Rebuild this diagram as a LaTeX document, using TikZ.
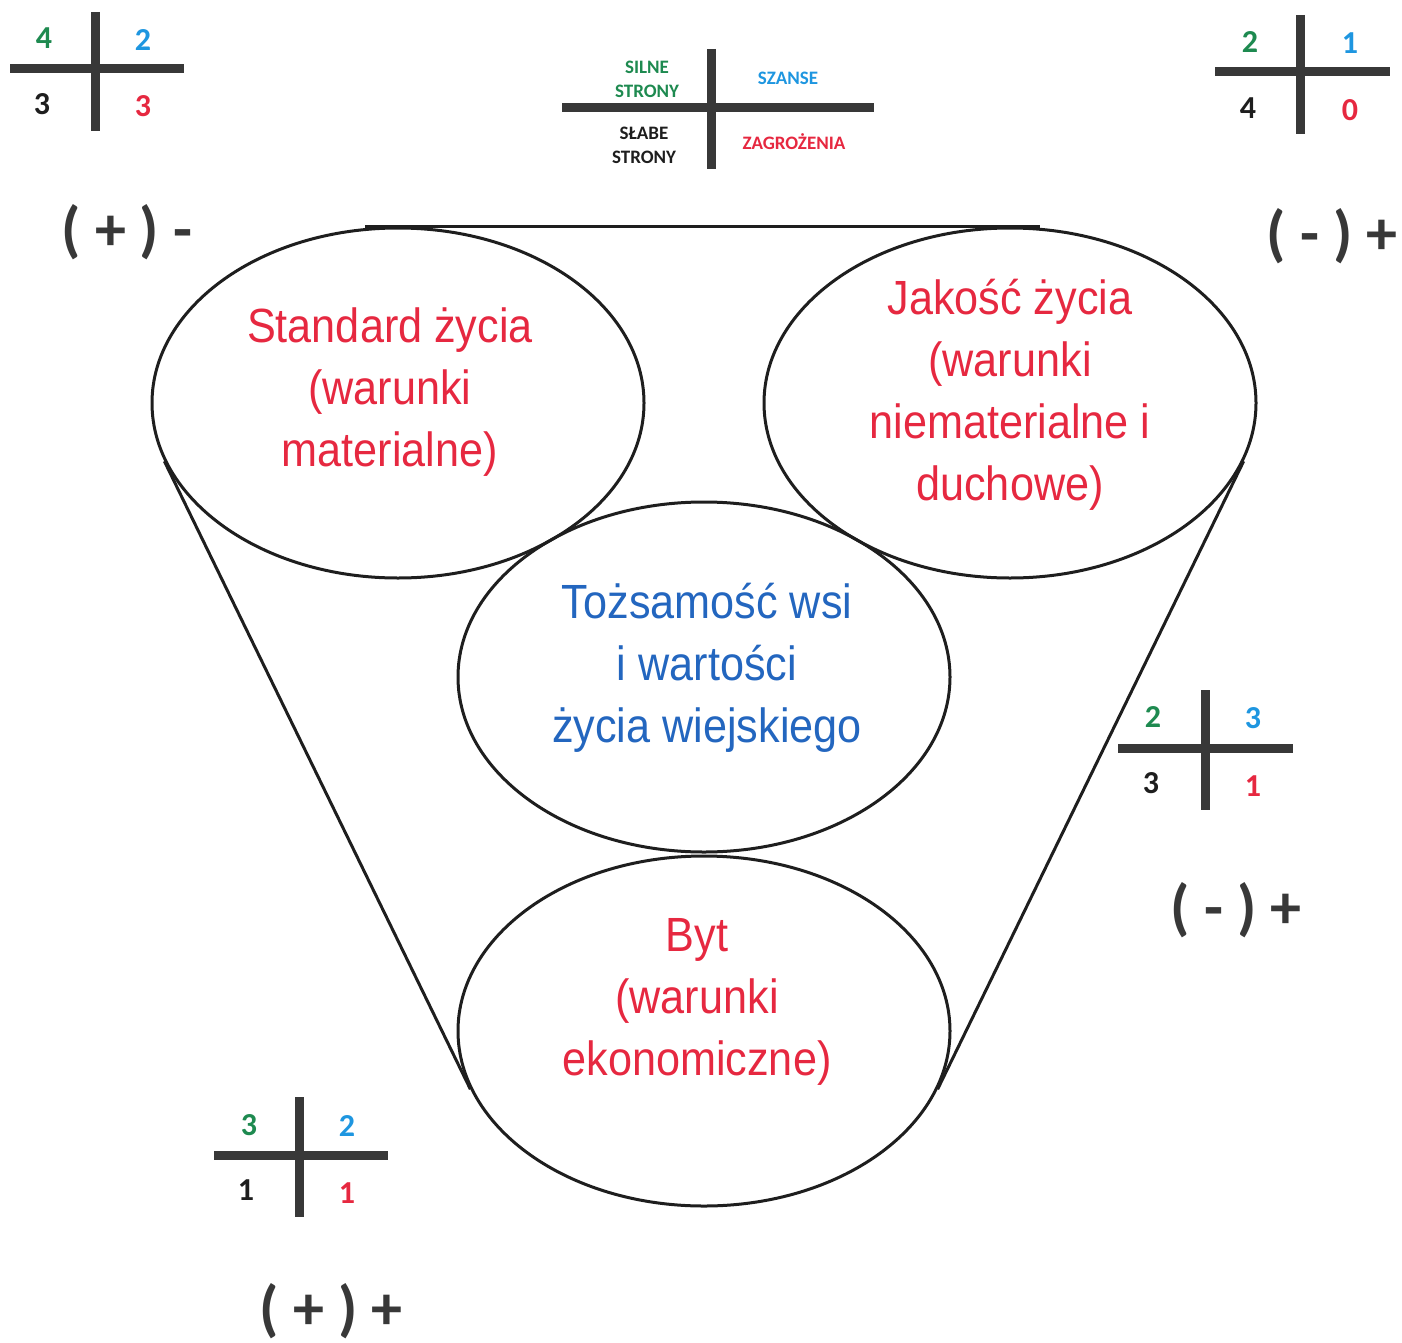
\documentclass[tikz,border=0pt]{standalone}
\usepackage{fontspec}
\setmainfont{Carlito}
\newfontfamily\narrowsans[FakeStretch=0.9]{Liberation Sans}
\usepackage{xcolor}
\usepackage{tikz}
\usetikzlibrary{shapes.geometric}
\definecolor{ink}{HTML}{1E1E1E}
\definecolor{bar}{HTML}{383838}
\definecolor{rose}{HTML}{E62840}
\definecolor{moss}{HTML}{1E8A50}
\definecolor{sky}{HTML}{1E96E0}
\definecolor{navy}{HTML}{2366BF}
\tikzset{
  blob/.style={ellipse,draw=ink,line width=3pt,minimum width=492pt,minimum height=350pt,inner sep=0pt},
  big/.style={font=\narrowsans\fontsize{48}{62}\selectfont,align=center},
  barline/.style={draw=bar,line width=9pt},
  num/.style={font=\bfseries\fontsize{32}{36}\selectfont},
  tag/.style={font=\bfseries\fontsize{19}{24}\selectfont,align=center},
  sign/.style={font=\bfseries\fontsize{62}{66}\selectfont,text=bar},
}
\begin{document}
\begin{tikzpicture}[x=1pt,y=-1pt]
  \useasboundingbox (0,0) rectangle (1402,1343);
  % the four circles
  \node[blob] (L) at (398,403) {};
  \node[blob] (R) at (1010,403) {};
  \node[blob] (M) at (704,677) {};
  \node[blob] (B) at (704,1031) {};
  \node[big,text=rose] (Lt) at (390,392) {Standard życia\\(warunki\\materialne)};
  \node[big,text=rose] (Rt) at (1010,395) {Jakość życia\\(warunki\\niematerialne i\\duchowe)};
  \node[big,text=navy] (Mt) at (707,668) {Tożsamość wsi\\i wartości\\życia wiejskiego};
  \node[big,text=rose] (Bt) at (697,1002) {Byt\\(warunki\\ekonomiczne)};
  \draw[ink,line width=3pt] ([xshift=-33pt]L.north) -- ([xshift=30pt]R.north);
  \draw[ink,line width=3pt] (L.194) -- (B.194);
  \draw[ink,line width=3pt] (R.346) -- (B.346);
  % legend
  \draw[barline] (562,108) -- (874,108);
  \draw[barline] (711,49) -- (711,169);
  \node[tag,text=moss] (s) at (647,79) {SILNE\\STRONY};
  \node[tag,text=sky] (o) at (788,78) {SZANSE};
  \node[tag,text=ink] (w) at (644,145) {SŁABE\\STRONY};
  \node[tag,text=rose] (t) at (794,142) {ZAGROŻENIA};
  % top left
  \draw[barline] (10,69) -- (184,69);
  \draw[barline] (95,12) -- (95,131);
  \node[num,text=moss] (s1) at (44,38) {4};
  \node[num,text=sky] (o1) at (143,40) {2};
  \node[num,text=ink] (w1) at (42,104) {3};
  \node[num,text=rose] (t1) at (143,106) {3};
  \node[sign] (g1) at (127,232) {( + ) -};
  % top right
  \draw[barline] (1215,72) -- (1390,72);
  \draw[barline] (1300,15) -- (1300,134);
  \node[num,text=moss] (s2) at (1250,42) {2};
  \node[num,text=sky] (o2) at (1350,43) {1};
  \node[num,text=ink] (w2) at (1248,108) {4};
  \node[num,text=rose] (t2) at (1350,110) {0};
  \node[sign] (g2) at (1332,236) {( - ) +};
  % right
  \draw[barline] (1118,748) -- (1293,748);
  \draw[barline] (1205,690) -- (1205,810);
  \node[num,text=moss] (s3) at (1153,717) {2};
  \node[num,text=sky] (o3) at (1253,718) {3};
  \node[num,text=ink] (w3) at (1151,783) {3};
  \node[num,text=rose] (t3) at (1253,786) {1};
  \node[sign] (g3) at (1236,910) {( - ) +};
  % bottom left
  \draw[barline] (214,1155) -- (388,1155);
  \draw[barline] (299,1097) -- (299,1217);
  \node[num,text=moss] (s4) at (249,1125) {3};
  \node[num,text=sky] (o4) at (347,1126) {2};
  \node[num,text=ink] (w4) at (246,1190) {1};
  \node[num,text=rose] (t4) at (347,1193) {1};
  \node[sign] (g4) at (331,1311) {( + ) +};
\end{tikzpicture}
\end{document}
